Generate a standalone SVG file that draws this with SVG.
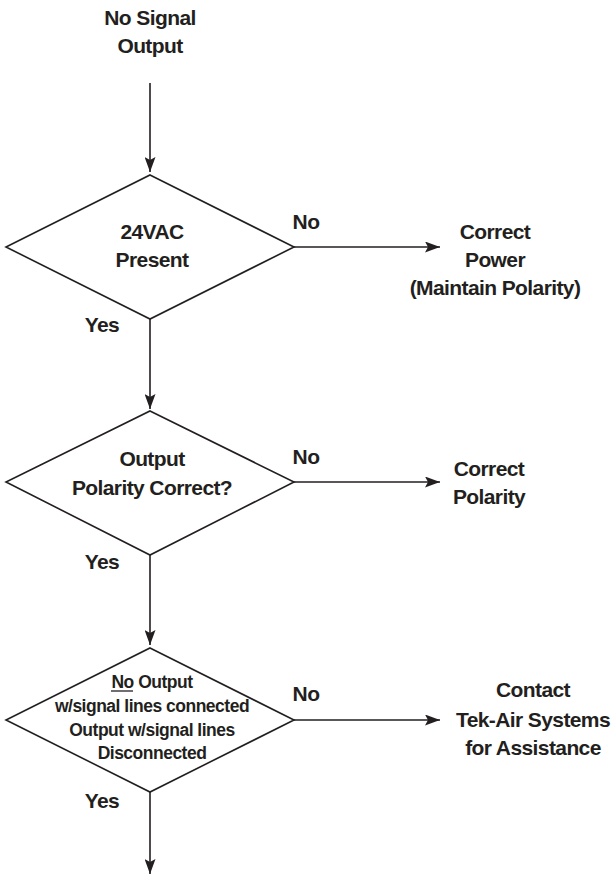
<svg xmlns="http://www.w3.org/2000/svg" width="613" height="882" viewBox="0 0 613 882">
  <style>
    .bg { fill: #ffffff; }
    .shape { fill: #ffffff; stroke: #231f20; stroke-width: 1.6; stroke-linejoin: miter; }
    .wire { fill: none; stroke: #231f20; stroke-width: 1.6; }
    text { font-family: "Liberation Sans", Arial, sans-serif; font-weight: bold; fill: #231f20; text-anchor: middle; }
    .lg { font-size: 21px; letter-spacing: -0.6px; }
    .sm { font-size: 17.5px; letter-spacing: -0.5px; }
    .ul { fill: none; stroke: #231f20; stroke-width: 1.3; }
  </style>
  <defs>
    <marker id="arrow" markerWidth="15" markerHeight="11" refX="15" refY="5.5" orient="auto" markerUnits="userSpaceOnUse">
      <path d="M0,0 L15,5.5 L0,11 L3,5.5 Z" fill="#231f20"/>
    </marker>
  </defs>

  <rect class="bg" x="0" y="0" width="613" height="882"/>

  <!-- connectors -->
  <g id="connectors">
    <line class="wire" x1="150" y1="83" x2="150" y2="172" marker-end="url(#arrow)"/>
    <line class="wire" x1="294" y1="247" x2="440" y2="247" marker-end="url(#arrow)"/>
    <line class="wire" x1="150" y1="319" x2="150" y2="409" marker-end="url(#arrow)"/>
    <line class="wire" x1="294" y1="482" x2="440" y2="482" marker-end="url(#arrow)"/>
    <line class="wire" x1="150" y1="555" x2="150" y2="645" marker-end="url(#arrow)"/>
    <line class="wire" x1="294" y1="720" x2="440" y2="720" marker-end="url(#arrow)"/>
    <line class="wire" x1="150" y1="792" x2="150" y2="874" marker-end="url(#arrow)"/>

    <text class="lg" x="306" y="229">No</text>
    <text class="lg" x="102" y="332">Yes</text>
    <text class="lg" x="306" y="464">No</text>
    <text class="lg" x="102" y="569">Yes</text>
    <text class="lg" x="306" y="701">No</text>
    <text class="lg" x="102" y="808">Yes</text>
  </g>

  <!-- start -->
  <g id="start">
    <text class="lg" x="150" y="25">No Signal</text>
    <text class="lg" x="150" y="53">Output</text>
  </g>

  <!-- decision: supply voltage -->
  <g id="check-24vac">
    <polygon class="shape" points="150,175 294,247 150,319 6,247"/>
    <text class="lg" x="152" y="239">24VAC</text>
    <text class="lg" x="152" y="267">Present</text>
  </g>

  <g id="correct-power">
    <text class="lg" x="495" y="239">Correct</text>
    <text class="lg" x="495" y="267">Power</text>
    <text class="lg" x="495" y="295">(Maintain Polarity)</text>
  </g>

  <!-- decision: output polarity -->
  <g id="check-polarity">
    <polygon class="shape" points="150,411 294,482 150,555 6,482"/>
    <text class="lg" x="152" y="466">Output</text>
    <text class="lg" x="152" y="495">Polarity Correct?</text>
  </g>

  <g id="correct-polarity">
    <text class="lg" x="489" y="476">Correct</text>
    <text class="lg" x="489" y="504">Polarity</text>
  </g>

  <!-- decision: signal lines -->
  <g id="check-signal-lines">
    <polygon class="shape" points="150,648 294,720 150,792 6,720"/>
    <text class="sm" x="152" y="688">No Output</text>
    <line class="ul" x1="111" y1="691" x2="133" y2="691"/>
    <text class="sm" x="152" y="712">w/signal lines connected</text>
    <text class="sm" x="152" y="736">Output w/signal lines</text>
    <text class="sm" x="152" y="759">Disconnected</text>
  </g>

  <g id="contact-support">
    <text class="lg" x="533" y="697">Contact</text>
    <text class="lg" x="533" y="727">Tek-Air Systems</text>
    <text class="lg" x="533" y="755">for Assistance</text>
  </g>
</svg>
